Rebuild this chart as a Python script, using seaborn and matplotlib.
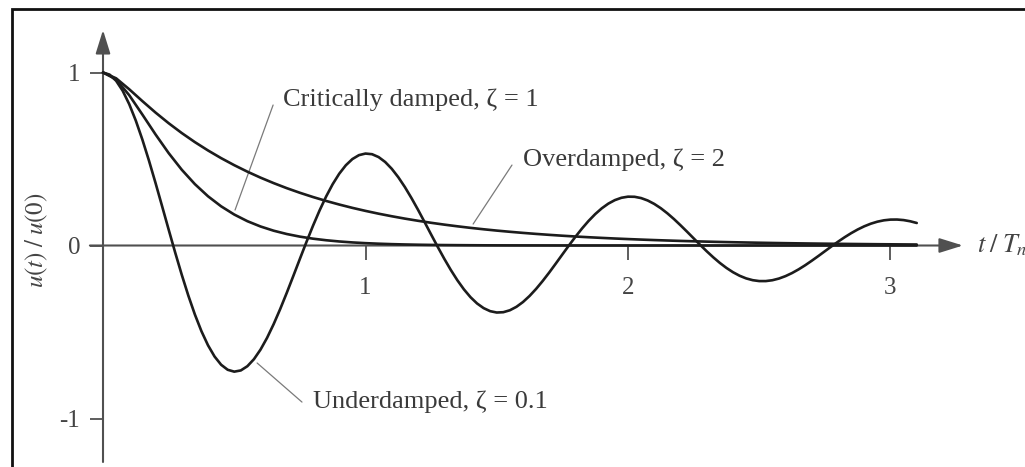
import matplotlib
matplotlib.use("Agg")
import matplotlib.pyplot as plt
import numpy as np
import pandas as pd
import seaborn as sns
from matplotlib.patches import Rectangle

# Free-vibration response u(t)/u(0) against t/Tn
# Damped curves sampled every 0.05 Tn
t_coarse = [0.00, 0.05, 0.10, 0.15, 0.20, 0.25, 0.30, 0.35, 0.40, 0.45,
            0.50, 0.55, 0.60, 0.65, 0.70, 0.75, 0.80, 0.85, 0.90, 0.95,
            1.00, 1.05, 1.10, 1.15, 1.20, 1.25, 1.30, 1.35, 1.40, 1.45,
            1.50, 1.55, 1.60, 1.65, 1.70, 1.75, 1.80, 1.85, 1.90, 1.95,
            2.00, 2.05, 2.10, 2.15, 2.20, 2.25, 2.30, 2.35, 2.40, 2.45,
            2.50, 2.55, 2.60, 2.65, 2.70, 2.75, 2.80, 2.85, 2.90, 2.95,
            3.00, 3.05, 3.10]

u_critical = [1.0000, 0.9599, 0.8687, 0.7569, 0.6423, 0.5344, 0.4380, 0.3548, 0.2846, 0.2265,
              0.1790, 0.1406, 0.1100, 0.0856, 0.0664, 0.0513, 0.0395, 0.0304, 0.0233, 0.0178,
              0.0136, 0.0104, 0.0079, 0.0060, 0.0045, 0.0034, 0.0026, 0.0020, 0.0015, 0.0011,
              0.0008, 0.0006, 0.0005, 0.0004, 0.0003, 0.0002, 0.0001, 0.0001, 0.0001, 0.0001,
              0.0000, 0.0000, 0.0000, 0.0000, 0.0000, 0.0000, 0.0000, 0.0000, 0.0000, 0.0000,
              0.0000, 0.0000, 0.0000, 0.0000, 0.0000, 0.0000, 0.0000, 0.0000, 0.0000, 0.0000,
              0.0000, 0.0000, 0.0000]

u_overdamped = [1.0000, 0.9664, 0.9030, 0.8346, 0.7686, 0.7070, 0.6501, 0.5976, 0.5494, 0.5050,
                0.4643, 0.4268, 0.3923, 0.3607, 0.3315, 0.3048, 0.2802, 0.2576, 0.2368, 0.2176,
                0.2001, 0.1839, 0.1691, 0.1554, 0.1429, 0.1313, 0.1207, 0.1110, 0.1020, 0.0938,
                0.0862, 0.0793, 0.0729, 0.0670, 0.0616, 0.0566, 0.0520, 0.0478, 0.0440, 0.0404,
                0.0372, 0.0342, 0.0314, 0.0289, 0.0265, 0.0244, 0.0224, 0.0206, 0.0189, 0.0174,
                0.0160, 0.0147, 0.0135, 0.0124, 0.0114, 0.0105, 0.0097, 0.0089, 0.0082, 0.0075,
                0.0069, 0.0063, 0.0058]

# Oscillating curve sampled every 0.025 Tn
t_fine = [0.000, 0.025, 0.050, 0.075, 0.100, 0.125, 0.150, 0.175, 0.200, 0.225,
          0.250, 0.275, 0.300, 0.325, 0.350, 0.375, 0.400, 0.425, 0.450, 0.475,
          0.500, 0.525, 0.550, 0.575, 0.600, 0.625, 0.650, 0.675, 0.700, 0.725,
          0.750, 0.775, 0.800, 0.825, 0.850, 0.875, 0.900, 0.925, 0.950, 0.975,
          1.000, 1.025, 1.050, 1.075, 1.100, 1.125, 1.150, 1.175, 1.200, 1.225,
          1.250, 1.275, 1.300, 1.325, 1.350, 1.375, 1.400, 1.425, 1.450, 1.475,
          1.500, 1.525, 1.550, 1.575, 1.600, 1.625, 1.650, 1.675, 1.700, 1.725,
          1.750, 1.775, 1.800, 1.825, 1.850, 1.875, 1.900, 1.925, 1.950, 1.975,
          2.000, 2.025, 2.050, 2.075, 2.100, 2.125, 2.150, 2.175, 2.200, 2.225,
          2.250, 2.275, 2.300, 2.325, 2.350, 2.375, 2.400, 2.425, 2.450, 2.475,
          2.500, 2.525, 2.550, 2.575, 2.600, 2.625, 2.650, 2.675, 2.700, 2.725,
          2.750, 2.775, 2.800, 2.825, 2.850, 2.875, 2.900, 2.925, 2.950, 2.975,
          3.000, 3.025, 3.050, 3.075, 3.100]

u_underdamped = [1.0000, 0.9878, 0.9521, 0.8943, 0.8167, 0.7217, 0.6121, 0.4911, 0.3620, 0.2279,
                 0.0926, -0.0408, -0.1691, -0.2893, -0.3988, -0.4953, -0.5767, -0.6417, -0.6892, -0.7183,
                 -0.7292, -0.7221, -0.6977, -0.6571, -0.6019, -0.5338, -0.4548, -0.3673, -0.2736, -0.1761,
                 -0.0774, 0.0201, 0.1142, 0.2025, 0.2832, 0.3546, 0.4151, 0.4637, 0.4996, 0.5223,
                 0.5315, 0.5277, 0.5111, 0.4827, 0.4434, 0.3946, 0.3378, 0.2745, 0.2068, 0.1357,
                 0.0636, -0.0076, -0.0765, -0.1414, -0.2009, -0.2537, -0.2987, -0.3350, -0.3620, -0.3796,
                 -0.3874, -0.3855, -0.3743, -0.3544, -0.3266, -0.2916, -0.2507, -0.2050, -0.1559, -0.1042,
                 -0.0517, 0.0004, 0.0509, 0.0986, 0.1424, 0.1814, 0.2148, 0.2420, 0.2624, 0.2759,
                 0.2823, 0.2816, 0.2741, 0.2602, 0.2404, 0.2155, 0.1860, 0.1530, 0.1171, 0.0798,
                 0.0415, 0.0035, -0.0335, -0.0685, -0.1008, -0.1296, -0.1544, -0.1747, -0.1901, -0.2004,
                 -0.2056, -0.2056, -0.2007, -0.1910, -0.1770, -0.1591, -0.1379, -0.1141, -0.0881, -0.0610,
                 -0.0331, -0.0053, 0.0218, 0.0475, 0.0712, 0.0925, 0.1109, 0.1261, 0.1377, 0.1456,
                 0.1497, 0.1501, 0.1469, 0.1401, 0.1302]

case_labels = ["Underdamped, ζ = 0.1", "Critically damped, ζ = 1", "Overdamped, ζ = 2"]
x_ticks = [1, 2, 3]
x_tick_labels = ["1", "2", "3"]
y_ticks = [-1, 0, 1]
y_tick_labels = ["-1", "0", "1"]

sns.set_theme(style="white")
plt.rcParams["font.family"] = ["Liberation Serif", "DejaVu Serif"]
plt.rcParams["mathtext.fontset"] = "stix"

curve_color = "#1c1c1c"
axis_color = "#505050"
text_color = "#3a3a3a"

df = pd.concat([
    pd.DataFrame({"t": tt, "u": vals, "case": name})
    for name, tt, vals in zip(case_labels,
                              [t_fine, t_coarse, t_coarse],
                              [u_underdamped, u_critical, u_overdamped])
], ignore_index=True)

fig = plt.figure(figsize=(10.25, 4.67), dpi=100)
ax = fig.add_axes([0, 0, 1, 1])
ax.set_facecolor("white")

sns.lineplot(data=df, x="t", y="u", hue="case",
             palette={name: curve_color for name in case_labels},
             linewidth=1.9, legend=False, ax=ax, zorder=3)
for line in ax.get_lines():
    line.set_solid_joinstyle("round")
    line.set_solid_capstyle("round")

ax.set_xlim(-0.3924, 3.5124)
ax.set_ylim(-1.2803, 1.4191)
ax.set_xlabel("")
ax.set_ylabel("")

# Axes cross at the origin; spines hidden, arrows drawn instead
for side in ["top", "right"]:
    ax.spines[side].set_visible(False)
for side in ["left", "bottom"]:
    ax.spines[side].set_position(("data", 0))
    ax.spines[side].set_color("none")

arrow_style = "-|>,head_length=0.9,head_width=0.28"
ax.annotate("", xy=(3.276, 0), xytext=(-0.05, 0),
            arrowprops=dict(arrowstyle=arrow_style, mutation_scale=16, lw=1.5,
                            color=axis_color, shrinkA=0, shrinkB=0), zorder=2)
ax.annotate("", xy=(0, 1.2457), xytext=(0, -1.2514),
            arrowprops=dict(arrowstyle=arrow_style, mutation_scale=16, lw=1.5,
                            color=axis_color, shrinkA=0, shrinkB=0), zorder=2)

ax.set_xticks(x_ticks)
ax.set_xticklabels(x_tick_labels)
ax.set_yticks(y_ticks)
ax.set_yticklabels(y_tick_labels)
ax.tick_params(axis="x", bottom=True, direction="out", length=10, width=1.3,
               color=axis_color, pad=12.5, labelsize=18, labelcolor="#444444")
ax.tick_params(axis="y", left=True, direction="out", length=9.5, width=1.3,
               color=axis_color, pad=7, labelsize=18, labelcolor="#444444")

# Axis titles
ax.text(-0.251, 0.03, r"$u(t)\;/\;u(0)$", rotation=90, ha="center", va="center",
        fontsize=18, color="#444444")
ax.text(3.33, 0.0, r"$t\;/\;T_n$", ha="left", va="center", fontsize=19, color="#444444")

# Curve labels with leader lines
label_specs = [
    ("Critically damped, ζ = 1", (0.686, 0.841), (0.648, 0.812), (0.503, 0.205)),
    ("Overdamped, ζ = 2", (1.600, 0.494), (1.558, 0.465), (1.410, 0.124)),
    ("Underdamped, ζ = 0.1", (0.800, -0.905), (0.758, -0.905), (0.587, -0.679)),
]
for text, pos, lead_start, lead_end in label_specs:
    ax.text(pos[0], pos[1], text, ha="left", va="center", fontsize=19, color=text_color)
    ax.annotate("", xy=lead_end, xytext=lead_start,
                arrowprops=dict(arrowstyle="-", lw=0.9, color="#7a7a7a",
                                shrinkA=0, shrinkB=0), zorder=2)

# Frame around the figure
fig.add_artist(Rectangle((12 / 1025, -0.5), 2.0, 1.5 - 9 / 467, transform=fig.transFigure,
                         fill=False, lw=2.0, edgecolor="#111111"))

fig.savefig("out.png", dpi=100)
